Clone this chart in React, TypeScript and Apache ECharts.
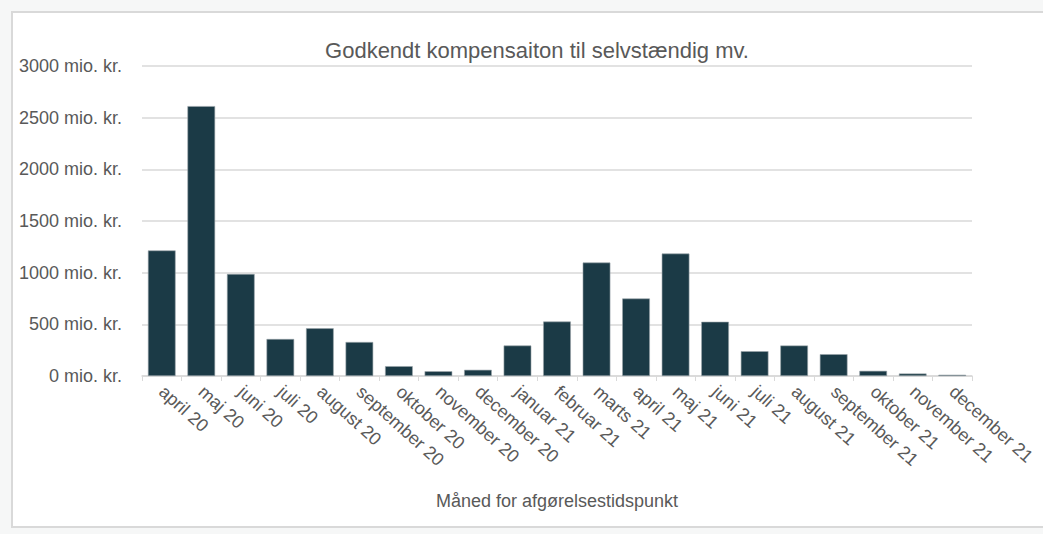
import React, { useEffect, useRef } from "react";
import * as echarts from "echarts";

const categories = [
  "april 20", "maj 20", "juni 20", "juli 20", "august 20", "september 20",
  "oktober 20", "november 20", "december 20", "januar 21", "februar 21",
  "marts 21", "april 21", "maj 21", "juni 21", "juli 21", "august 21",
  "september 21", "oktober 21", "november 21", "december 21",
];
const values = [
  1215, 2612, 987, 358, 462, 329, 95, 46, 60, 295, 527, 1098, 750, 1185, 525,
  240, 295, 211, 50, 24, 12,
];
const yTicks = [0, 500, 1000, 1500, 2000, 2500, 3000];
const titleText = "Godkendt kompensaiton til selvstændig mv.";
const xAxisTitle = "Måned for afgørelsestidspunkt";

export default function App() {
  const ref = useRef<HTMLDivElement>(null);
  useEffect(() => {
    if (!ref.current) return;
    const chart = echarts.init(ref.current, undefined, { renderer: "svg" });
    const font = "'Liberation Sans', Arial, sans-serif";
    chart.setOption({
      animation: false,
      backgroundColor: "#f6f7f7",
      textStyle: { fontFamily: font },
      graphic: [
        {
          type: "rect",
          shape: { x: 12, y: 12, width: 1060, height: 515 },
          style: { fill: "#ffffff", stroke: "#d9d9d9", lineWidth: 2 },
          z: -10,
        },
      ],
      title: {
        text: titleText,
        left: 532,
        textAlign: "center",
        top: 34,
        textStyle: { fontSize: 22, fontWeight: "normal", color: "#595959", fontFamily: font },
      },
      grid: { left: 142, right: 71, top: 66, bottom: 158 },
      xAxis: {
        type: "category",
        data: categories,
        name: xAxisTitle,
        nameLocation: "middle",
        nameGap: 116,
        nameTextStyle: { fontSize: 18, color: "#595959", fontFamily: font },
        axisLine: { lineStyle: { color: "#d9d9d9", width: 1.5 } },
        axisTick: { show: true, length: 5, lineStyle: { color: "#d9d9d9" } },
        axisLabel: {
          rotate: -42,
          interval: 0,
          fontSize: 18,
          color: "#595959",
          margin: 13,
          fontFamily: font,
        },
      },
      yAxis: {
        type: "value",
        min: yTicks[0],
        max: yTicks[yTicks.length - 1],
        interval: 500,
        axisLine: { show: false },
        axisTick: { show: false },
        splitLine: { lineStyle: { color: "#d9d9d9", width: 1.5 } },
        axisLabel: {
          fontSize: 18,
          color: "#595959",
          margin: 20,
          fontFamily: font,
          formatter: (v: number) => `${v} mio. kr.`,
        },
      },
      series: [
        {
          type: "bar",
          data: values,
          barCategoryGap: "30%",
          itemStyle: { color: "#1b3a46", borderColor: "#9aa5aa", borderWidth: 0.6 },
        },
      ],
    });
    return () => chart.dispose();
  }, []);
  return (
    <div
      ref={ref}
      style={{ position: "absolute", left: 0, top: 0, width: 1043, height: 534 }}
    />
  );
}
